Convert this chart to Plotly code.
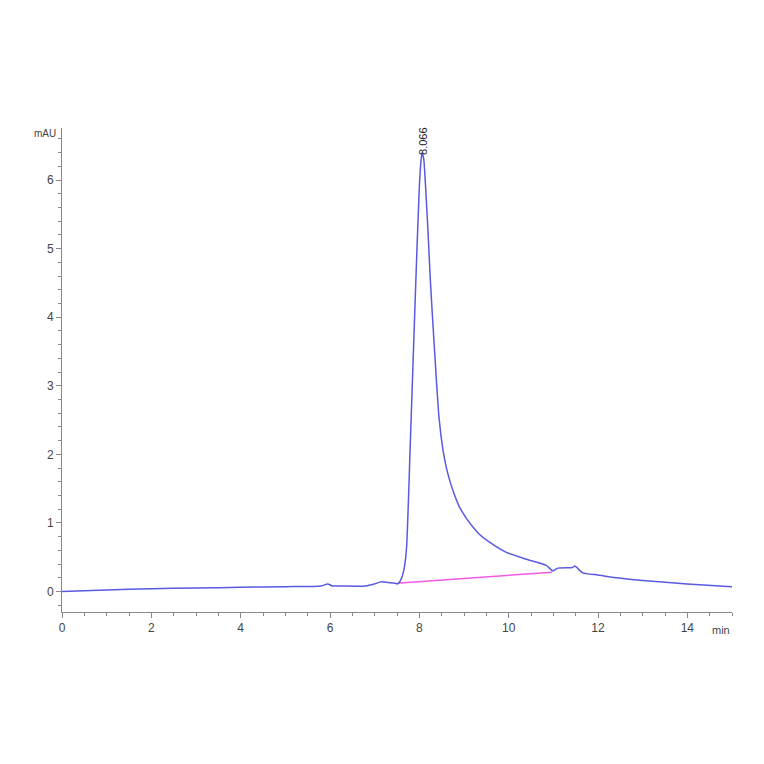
import plotly.graph_objects as go

# chromatogram trace (min, mAU)
time = [0, 1, 2, 3, 4, 5, 5.8, 5.95, 6.05, 6.2, 6.8, 7.0, 7.15, 7.3, 7.45, 7.52,
        7.58, 7.65, 7.71, 7.8, 7.92, 8.0, 8.04, 8.066, 8.1, 8.14, 8.19, 8.25,
        8.34, 8.44, 8.53, 8.6, 8.68, 8.78, 8.9, 9.05, 9.2, 9.35, 9.57, 9.95,
        10.4, 10.84, 10.99, 11.1, 11.43, 11.48, 11.66, 12.0, 12.4, 13, 14, 15]
signal = [0.0, 0.02, 0.04, 0.05, 0.06, 0.07, 0.08, 0.11, 0.08, 0.08, 0.08, 0.11,
          0.14, 0.13, 0.12, 0.11, 0.16, 0.3, 0.6, 2.2, 4.5, 5.9, 6.3, 6.4,
          6.3, 5.9, 5.3, 4.5, 3.52, 2.54, 2.06, 1.82, 1.62, 1.42, 1.23, 1.07,
          0.94, 0.83, 0.72, 0.57, 0.47, 0.38, 0.30, 0.34, 0.35, 0.37, 0.27,
          0.24, 0.20, 0.16, 0.11, 0.07]

# integration baseline
base_time = [7.5, 10.97]
base_signal = [0.12, 0.28]

peak_rt = 8.066
peak_h = 6.4

fig = go.Figure()
fig.add_trace(go.Scatter(x=base_time, y=base_signal, mode="lines",
                         line=dict(color="rgb(240,90,230)", width=1.5)))
fig.add_trace(go.Scatter(x=time, y=signal, mode="lines", line_shape="spline",
                         line=dict(color="rgb(90,90,225)", width=1.5, smoothing=0.6)))

fig.add_annotation(x=peak_rt, y=peak_h, text="8.066", textangle=-90,
                   showarrow=False, yanchor="bottom", xanchor="center",
                   yshift=-4, font=dict(size=11, color="#222"))
fig.add_annotation(x=0, y=6.68, text="mAU", showarrow=False,
                   xanchor="right", xshift=-4, font=dict(size=10, color="#444"))
fig.add_annotation(x=15, y=-0.3, text="min", showarrow=False,
                   xanchor="right", yanchor="top", yshift=-10,
                   font=dict(size=11, color="#444"))

axis_common = dict(showgrid=False, zeroline=False, showline=True,
                   linecolor="#888", linewidth=1, ticks="outside",
                   tickcolor="#888", ticklen=5,
                   tickfont=dict(size=12, color="#444"))

fig.update_xaxes(range=[0, 15], tickvals=[0, 2, 4, 6, 8, 10, 12, 14],
                 minor=dict(dtick=0.5, ticks="outside", ticklen=3, tickcolor="#888"),
                 **axis_common)
fig.update_yaxes(range=[-0.3, 6.76], tickvals=[0, 1, 2, 3, 4, 5, 6],
                 minor=dict(dtick=0.2, ticks="outside", ticklen=3, tickcolor="#888"),
                 **axis_common)

fig.update_layout(width=764, height=764, showlegend=False,
                  plot_bgcolor="white", paper_bgcolor="white",
                  font=dict(family="Liberation Sans"),
                  margin=dict(l=54, r=40, t=120, b=160))

fig.write_html("out.html")
